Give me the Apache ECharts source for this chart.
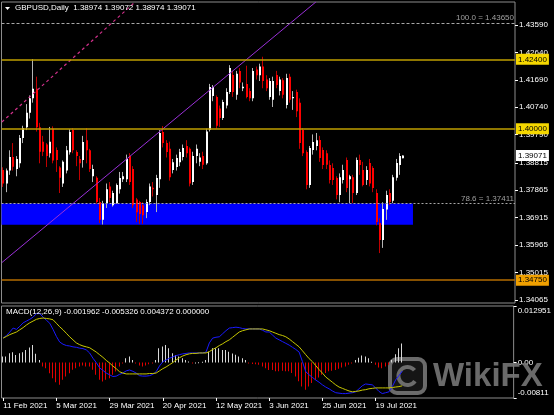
<!DOCTYPE html>
<html><head><meta charset="utf-8">
<script src="https://cdn.jsdelivr.net/npm/echarts@6/dist/echarts.min.js"></script>
<style>html,body{margin:0;padding:0;background:#000;}#c{width:554px;height:415px;}</style>
</head><body><div id="c"></div>
<script>
// ---------- data ----------
const symbolName = 'GBPUSD,Daily';
const firstDate = [2021, 1, 11];      // 11 Feb 2021
const totalSlots = 154;               // bars + empty shift area
const opens  = [1.3857,1.3810,1.3855,1.3902,1.3860,1.3880,1.3968,1.4005,1.4055,1.4105,1.4138,1.4005,1.3955,1.3945,1.3915,1.4000,1.3926,1.3865,1.3810,1.3855,1.3918,1.3995,1.3919,1.3895,1.3891,1.3960,1.3925,1.3835,1.3830,1.3746,1.3684,1.3742,1.3800,1.3735,1.3742,1.3790,1.3825,1.3825,1.3905,1.3860,1.3755,1.3746,1.3735,1.3711,1.3746,1.3795,1.3770,1.3825,1.3988,1.3950,1.3930,1.3857,1.3867,1.3884,1.3902,1.3940,1.3930,1.3815,1.3905,1.3885,1.3905,1.3880,1.3995,1.4113,1.4110,1.4070,1.4037,1.4080,1.4127,1.4186,1.4117,1.4200,1.4140,1.4155,1.4130,1.4105,1.4205,1.4185,1.4215,1.4170,1.4110,1.4100,1.4186,1.4130,1.4168,1.4082,1.4180,1.4105,1.4127,1.4090,1.3995,1.3919,1.3805,1.3926,1.3940,1.3961,1.3926,1.3915,1.3874,1.3864,1.3829,1.3770,1.3822,1.3891,1.3825,1.3832,1.3777,1.3891,1.3857,1.3822,1.3881,1.3864,1.3777,1.3673,1.3614,1.3720,1.3777,1.3750,1.3830,1.3874,1.38974];
const highs  = [1.3866,1.3862,1.3925,1.3950,1.3905,1.3978,1.4010,1.4085,1.4115,1.4241,1.4180,1.4020,1.3975,1.3950,1.4006,1.4008,1.3935,1.3870,1.3890,1.3940,1.3998,1.4002,1.3925,1.3905,1.3975,1.4002,1.3930,1.3875,1.3835,1.3760,1.3750,1.3810,1.3815,1.3785,1.3810,1.3850,1.3850,1.3910,1.3915,1.3870,1.3760,1.3750,1.3745,1.3755,1.3810,1.3815,1.3840,1.3995,1.4009,1.3960,1.3955,1.3895,1.3910,1.3930,1.3945,1.3960,1.3935,1.3920,1.3945,1.3915,1.3920,1.4000,1.4155,1.4151,1.4115,1.4080,1.4100,1.4140,1.4220,1.4200,1.4200,1.4210,1.4160,1.4218,1.4140,1.4210,1.4215,1.4225,1.4249,1.4185,1.4175,1.4180,1.4200,1.4180,1.4175,1.4190,1.4190,1.4130,1.4135,1.4105,1.4002,1.3925,1.3940,1.3980,1.3985,1.3975,1.3935,1.3925,1.3890,1.3880,1.3835,1.3845,1.3875,1.3900,1.3840,1.3840,1.3900,1.3910,1.3885,1.3870,1.3895,1.3870,1.3790,1.3690,1.3745,1.3785,1.3790,1.3840,1.3895,1.3915,1.39072];
const lows   = [1.3798,1.3780,1.3840,1.3855,1.3835,1.3865,1.3950,1.3995,1.4035,1.4090,1.3990,1.3880,1.3905,1.3867,1.3900,1.3880,1.3850,1.3777,1.3798,1.3845,1.3910,1.3915,1.3870,1.3822,1.3865,1.3880,1.3850,1.3815,1.3740,1.3673,1.3668,1.3725,1.3745,1.3730,1.3740,1.3775,1.3815,1.3815,1.3805,1.3725,1.3677,1.3670,1.3670,1.3690,1.3735,1.3765,1.3711,1.3795,1.3935,1.3900,1.3820,1.3845,1.3855,1.3870,1.3890,1.3900,1.3800,1.3805,1.3880,1.3870,1.3860,1.3875,1.3990,1.4095,1.4000,1.4006,1.4030,1.4070,1.4120,1.4110,1.4100,1.4140,1.4130,1.4105,1.4095,1.4095,1.4170,1.4165,1.4140,1.4130,1.4100,1.4075,1.4140,1.4115,1.4105,1.4070,1.4090,1.4065,1.4040,1.3930,1.3905,1.3790,1.3795,1.3910,1.3925,1.3885,1.3860,1.3860,1.3810,1.3805,1.3755,1.3745,1.3810,1.3780,1.3742,1.3742,1.3770,1.3840,1.3800,1.3805,1.3800,1.3780,1.3665,1.3569,1.3587,1.3684,1.3735,1.3742,1.3820,1.3840,1.38974];
const closes = [1.3810,1.3855,1.3902,1.3868,1.3895,1.3968,1.4002,1.4055,1.4105,1.4138,1.4005,1.3920,1.3920,1.3905,1.3955,1.3890,1.3891,1.3830,1.3885,1.3925,1.3988,1.3925,1.3905,1.3880,1.3954,1.3925,1.3860,1.3860,1.3746,1.3684,1.3742,1.3790,1.3760,1.3777,1.3805,1.3829,1.3835,1.3895,1.3815,1.3735,1.3710,1.3704,1.3700,1.3746,1.3800,1.3790,1.3829,1.3985,1.3950,1.3919,1.3832,1.3884,1.3898,1.3919,1.3933,1.3915,1.3810,1.3905,1.3930,1.3900,1.3875,1.3990,1.4144,1.4144,1.4010,1.4037,1.4092,1.4127,1.4210,1.4127,1.4190,1.4160,1.4145,1.4110,1.4105,1.4200,1.4185,1.4215,1.4165,1.4140,1.4165,1.4165,1.4151,1.4170,1.4117,1.4175,1.4100,1.4110,1.4060,1.3950,1.3915,1.3805,1.3933,1.3954,1.3960,1.3898,1.3874,1.3875,1.3822,1.3822,1.3770,1.3832,1.3857,1.3794,1.3835,1.3777,1.3891,1.3874,1.3805,1.3857,1.3810,1.3794,1.3677,1.3614,1.3722,1.3770,1.3746,1.3832,1.3881,1.3905,1.39071];

const macdHist = [0.00137,0.00137,0.00213,0.00236,0.00175,0.00213,0.00236,0.00290,0.00343,0.00404,0.0020,0.0006,
 -0.00091,-0.00129,-0.00243,-0.00357,-0.00449,-0.0051,-0.00395,-0.00319,-0.00243,-0.00167,-0.00129,-0.00091,-0.00068,-0.00091,-0.00091,-0.00167,-0.00281,-0.00395,-0.00433,-0.00395,-0.00357,-0.00281,-0.00205,-0.00091,-0.00015,
 0.0010,0.00137,0.00061,-0.00015,-0.00068,-0.00091,-0.00068,-0.00038,-0.00015,0.00061,0.00328,0.00366,0.00404,0.00328,0.00213,0.00175,0.00137,0.0010,0.00061,0.00023,-0.0001,0.00002,0.0001,0.0002,0.0006,0.0025,0.0033,0.0033,0.0033,0.0029,0.0029,0.0025,0.0021,0.0018,0.0014,0.0010,0.0006,-0.0001,-0.0003,-0.0004,-0.0005,-0.0009,-0.0013,
 -0.0017,-0.0017,-0.0020,-0.0020,-0.0019,-0.0020,-0.0020,-0.0024,-0.0032,-0.0043,-0.0055,-0.0062,-0.0055,-0.0047,-0.0040,-0.0034,-0.0028,-0.0024,-0.0020,-0.0019,-0.0017,-0.0014,-0.0011,-0.0009,-0.0005,-0.0001,
 0.0006,0.0011,0.0016,0.0014,0.0010,0.0002,-0.0005,-0.0011,-0.0013,-0.0009,-0.0005,0.0006,0.0019,0.0033,0.004372];
const macdMain = [0.0056,0.0062,0.0070,0.0079,0.0076,0.0083,0.0091,0.0095,0.0099,0.0104,0.0112,0.0112,0.0104,0.0097,0.0090,0.0076,0.0060,0.0047,0.0042,0.0039,0.0038,0.0036,0.0035,0.0033,0.0032,0.0029,0.0022,0.0010,0.0000,-0.0012,-0.0018,-0.0024,-0.0028,-0.0032,-0.0031,-0.0027,-0.0024,-0.0019,-0.0017,-0.0020,-0.0024,-0.0030,-0.0031,-0.0031,-0.0030,-0.0027,-0.0021,-0.0008,0.0002,0.0006,0.0010,0.0013,0.0016,0.0018,0.0020,0.0021,0.0022,0.0022,0.0022,0.0022,0.0022,0.0024,0.0045,0.0056,0.0058,0.0059,0.0066,0.0073,0.0079,0.0080,0.0081,0.0080,0.0078,0.0077,0.0077,0.0077,0.0077,0.0077,0.0074,0.0070,0.0070,0.0063,0.0056,0.0052,0.0048,0.0044,0.0040,0.0035,0.0030,0.0024,0.0002,-0.0021,-0.0028,-0.0034,-0.0040,-0.0045,-0.0051,-0.0056,-0.0060,-0.0065,-0.0069,-0.0070,-0.0071,-0.0071,-0.0070,-0.0069,-0.0067,-0.0060,-0.0053,-0.0049,-0.0050,-0.0051,-0.0058,-0.0066,-0.0071,-0.0069,-0.0067,-0.0055,-0.0040,-0.0030,-0.001962];
const macdSignal = [0.0056,0.0060,0.0064,0.0067,0.0070,0.0075,0.0080,0.0086,0.0091,0.0095,0.0099,0.0101,0.0102,0.0101,0.0100,0.0098,0.0090,0.0082,0.0075,0.0067,0.0059,0.0052,0.0045,0.0041,0.0038,0.0036,0.0034,0.0029,0.0024,0.0018,0.0012,0.0005,-0.0001,-0.0008,-0.0014,-0.0021,-0.0024,-0.0026,-0.0026,-0.0026,-0.0026,-0.0026,-0.0026,-0.0026,-0.0025,-0.0025,-0.0024,-0.0019,-0.0014,-0.0010,-0.0005,0.0000,0.0006,0.0011,0.0015,0.0018,0.0020,0.0021,0.0021,0.0022,0.0022,0.0022,0.0025,0.0030,0.0034,0.0039,0.0043,0.0048,0.0052,0.0058,0.0064,0.0070,0.0073,0.0075,0.0077,0.0077,0.0077,0.0077,0.0077,0.0075,0.0073,0.0070,0.0067,0.0064,0.0062,0.0059,0.0054,0.0048,0.0042,0.0036,0.0027,0.0018,0.0009,0.0002,-0.0007,-0.0016,-0.0024,-0.0033,-0.0039,-0.0045,-0.0051,-0.0056,-0.0059,-0.0062,-0.0065,-0.0067,-0.0066,-0.0065,-0.0063,-0.0062,-0.0060,-0.0059,-0.0058,-0.0058,-0.0058,-0.0058,-0.0058,-0.0057,-0.0056,-0.0055,-0.005326];
const macdEmpty = 0.000000;

const priceMin = 1.339607, priceMax = 1.443867;
const priceTicks = [1.43590,1.42640,1.41690,1.40740,1.39790,1.38815,1.37865,1.36915,1.35965,1.35015,1.34065];
const macdMin = -0.00811, macdMax = 0.012951;
const macdTickValues = [0.012951, 0, -0.00811];
const macdTickLabels = ['0.012951', '0.00', '-0.00811'];
const dateTicks = ['11 Feb 2021','5 Mar 2021','29 Mar 2021','20 Apr 2021','12 May 2021','3 Jun 2021','25 Jun 2021','19 Jul 2021'];

const levelValues = [1.42400, 1.40000, 1.34750];
const fibValues = [1.43650, 1.37411];
const fibNames = ['100.0', '78.6'];
const zoneTop = 1.37411, zoneBottom = 1.36673, zoneStartIdx = -0.5, zoneEndIdx = 122.9;
const trendPurple = [[-0.4, 1.3536], [93.8, 1.4439]];
const trendPink = [[-0.4, 1.4023], [39.6, 1.4439]];

// ---------- styles ----------
const FONT = '"Liberation Sans", Arial, sans-serif';
const levelLineColors = ['#bf9f00', '#bf9f00', '#b56d00'];
const levelBoxColors = ['#f5d700', '#f5d700', '#f0a000'];

// ---------- build ----------
const MON = ['Jan','Feb','Mar','Apr','May','Jun','Jul','Aug','Sep','Oct','Nov','Dec'];
const cats = [];
{
  const d = new Date(Date.UTC(firstDate[0], firstDate[1], firstDate[2]));
  while (cats.length < totalSlots) {
    const wd = d.getUTCDay();
    if (wd !== 0 && wd !== 6) cats.push(d.getUTCDate() + ' ' + MON[d.getUTCMonth()] + ' ' + d.getUTCFullYear());
    d.setUTCDate(d.getUTCDate() + 1);
  }
}
const candleData = opens.map((o, i) => [i, o, closes[i], lows[i], highs[i]]);
const histData = macdHist.map((v, i) => [i, v]);
const last = opens.length - 1;
const f5 = v => v.toFixed(5);
const titleText = symbolName + '  ' + f5(opens[last]) + ' ' + f5(highs[last]) + ' ' + f5(lows[last]) + ' ' + f5(closes[last]);
const macdTitle = 'MACD(12,26,9) ' + macdMain[last].toFixed(6) + ' ' + macdSignal[last].toFixed(6) + ' ' + macdHist[last].toFixed(6) + ' ' + macdEmpty.toFixed(6);
const isDateTick = (idx, val) => dateTicks.indexOf(val) >= 0;

const chart = echarts.init(document.getElementById('c'), null, {renderer: 'canvas'});
chart.setOption({
  backgroundColor: '#000000',
  animation: false,
  grid: [
    {left: 1.5, right: 39, top: 2, height: 301, show: true, borderColor: '#8c8c8c', borderWidth: 1, backgroundColor: 'transparent'},
    {left: 1.5, right: 39, top: 306, height: 92, show: true, borderColor: '#8c8c8c', borderWidth: 1, backgroundColor: 'transparent'}
  ],
  xAxis: [
    {gridIndex: 0, type: 'category', data: cats, boundaryGap: true, show: false},
    {gridIndex: 0, type: 'value', min: -0.5, max: totalSlots - 0.5, show: false, axisLine: {onZero: false}},
    {gridIndex: 1, type: 'category', data: cats, boundaryGap: true,
     axisLine: {show: false, onZero: false},
     axisTick: {show: true, length: 3, alignWithLabel: true, interval: isDateTick, lineStyle: {color: '#ffffff'}},
     axisLabel: {interval: isDateTick, align: 'left', color: '#ffffff', fontSize: 8, fontFamily: FONT, margin: 4},
     splitLine: {show: false}}
  ],
  yAxis: [
    {gridIndex: 0, type: 'value', position: 'right', min: priceMin, max: priceMax, scale: true,
     splitLine: {show: false}, axisLine: {show: false, onZero: false},
     axisTick: {show: true, length: 3, customValues: priceTicks, lineStyle: {color: '#ffffff'}},
     axisLabel: {customValues: priceTicks, showMinLabel: true, showMaxLabel: true, formatter: v => v.toFixed(5), color: '#ffffff', fontSize: 8, fontFamily: FONT, margin: 4}},
    {gridIndex: 1, type: 'value', position: 'right', min: macdMin, max: macdMax,
     splitLine: {show: false}, axisLine: {show: false, onZero: false},
     axisTick: {show: true, length: 3, customValues: macdTickValues, lineStyle: {color: '#ffffff'}},
     axisLabel: {customValues: macdTickValues, showMinLabel: true, showMaxLabel: true, margin: 4,
       formatter: v => {
         let k = 0, best = Infinity;
         macdTickValues.forEach((t, j) => { const dd = Math.abs(t - v); if (dd < best) { best = dd; k = j; } });
         const tag = k === 0 ? 't' : (k === macdTickValues.length - 1 ? 'b' : 'm');
         return '{' + tag + '|' + macdTickLabels[k] + '}';
       },
       rich: {
         t: {padding: [10, 0, 0, 0], color: '#ffffff', fontSize: 8, fontFamily: FONT},
         m: {color: '#ffffff', fontSize: 8, fontFamily: FONT},
         b: {padding: [0, 0, 10, 0], color: '#ffffff', fontSize: 8, fontFamily: FONT}
       }}}
  ],
  series: [
    { // fibo zone + fibo lines
      type: 'line', xAxisIndex: 1, yAxisIndex: 0, data: [], z: 1, silent: true,
      markArea: {silent: true, itemStyle: {color: '#0000ff', opacity: 1},
        data: [[{coord: [zoneStartIdx, zoneTop]}, {coord: [zoneEndIdx, zoneBottom]}]]},
      markLine: {silent: true, symbol: ['none', 'none'], precision: 6,
        data: fibValues.map((v, k) => ({
          yAxis: v,
          lineStyle: {color: '#a8a8a8', width: 1, type: k === 0 ? [3, 2] : [2, 2]},
          label: {show: true, position: 'insideEndTop', distance: 1, formatter: fibNames[k] + ' = ' + f5(v),
                  color: '#a0a0a0', fontSize: 8, fontFamily: FONT}
        }))}
    },
    { // horizontal levels and price boxes
      type: 'line', xAxisIndex: 1, yAxisIndex: 0, data: [], z: 6, silent: true,
      markLine: {silent: true, symbol: ['none', 'none'], precision: 6,
        data: levelValues.map((v, k) => ({
          yAxis: v,
          lineStyle: {color: levelLineColors[k], width: 1.5, type: 'solid'},
          label: {show: true, position: 'end', distance: 1, formatter: f5(v), color: '#000000',
                  backgroundColor: levelBoxColors[k], padding: [2, 2, 1, 2], fontSize: 8, fontFamily: FONT}
        })).concat([{
          yAxis: closes[last],
          lineStyle: {color: 'rgba(0,0,0,0)', width: 0},
          label: {show: true, position: 'end', distance: 1, formatter: f5(closes[last]), color: '#000000',
                  backgroundColor: '#ffffff', padding: [2, 2, 1, 2], fontSize: 8, fontFamily: FONT}
        }])}
    },
    { // candles
      type: 'custom', xAxisIndex: 0, yAxisIndex: 0, z: 3, data: candleData,
      encode: {x: 0, y: [1, 2, 3, 4]},
      renderItem: function (params, api) {
        const i = api.value(0), o = api.value(1), c = api.value(2), l = api.value(3), h = api.value(4);
        const po = api.coord([i, o]), pc = api.coord([i, c]), pl = api.coord([i, l]), ph = api.coord([i, h]);
        const x = Math.round(po[0]);
        const up = c >= o;
        const top = Math.min(po[1], pc[1]), bot = Math.max(po[1], pc[1]);
        return {type: 'group', children: [
          {type: 'line', shape: {x1: x - 0.5, y1: ph[1], x2: x - 0.5, y2: pl[1]},
           style: {stroke: up ? '#b4b4b4' : '#c00000', lineWidth: 1}},
          {type: 'rect', shape: {x: x - 1, y: top, width: 2, height: Math.max(1, bot - top)},
           style: {fill: up ? '#ffffff' : '#ff0000'}}
        ]};
      }
    },
    { // purple trendline
      type: 'line', xAxisIndex: 1, yAxisIndex: 0, data: trendPurple, z: 4, clip: true,
      showSymbol: false, symbol: 'none', silent: true,
      lineStyle: {color: '#9a30d8', width: 1}
    },
    { // pink dashed trendline
      type: 'line', xAxisIndex: 1, yAxisIndex: 0, data: trendPink, z: 4, clip: true,
      showSymbol: false, symbol: 'none', silent: true,
      lineStyle: {color: '#d0308a', width: 1.2, type: [3, 3]}
    },
    { // MACD histogram
      type: 'custom', xAxisIndex: 2, yAxisIndex: 1, z: 3, data: histData,
      encode: {x: 0, y: 1},
      renderItem: function (params, api) {
        const i = api.value(0), v = api.value(1);
        const p = api.coord([i, v]), p0 = api.coord([i, 0]);
        const x = Math.round(p[0]) - 1;
        return {type: 'rect', shape: {x: x, y: Math.min(p[1], p0[1]), width: 1, height: Math.max(1, Math.abs(p[1] - p0[1]))},
                style: {fill: v >= 0 ? '#d8d8d8' : '#e00000'}};
      }
    },
    {type: 'line', xAxisIndex: 2, yAxisIndex: 1, data: macdMain, z: 4, showSymbol: false, symbol: 'none',
     lineStyle: {color: '#1a1aff', width: 1}, silent: true},
    {type: 'line', xAxisIndex: 2, yAxisIndex: 1, data: macdSignal, z: 4, showSymbol: false, symbol: 'none',
     lineStyle: {color: '#c8c800', width: 1}, silent: true}
  ],
  graphic: [
    {type: 'polygon', shape: {points: [[5, 7], [10, 7], [7.5, 10]]}, style: {fill: '#ffffff'}, z: 10},
    {type: 'text', left: 15, top: 4, z: 10, style: {text: titleText, fill: '#ffffff', fontSize: 8, fontFamily: FONT}},
    {type: 'text', left: 6, top: 308, z: 10, style: {text: macdTitle, fill: '#ffffff', fontSize: 8, fontFamily: FONT}},
    {type: 'group', left: 388, top: 357, z: 20, children: [
      {type: 'rect', shape: {x: 2, y: 2, width: 35, height: 34, r: 7}, style: {fill: 'rgba(60,60,60,0.35)', stroke: 'rgba(118,118,118,0.9)', lineWidth: 4}},
      {type: 'arc', shape: {cx: 19.5, cy: 19, r: 9, startAngle: 0.6, endAngle: 5.6}, style: {stroke: 'rgba(118,118,118,0.9)', lineWidth: 4, fill: 'none'}}
    ]},
    {type: 'text', left: 433, top: 360, z: 20, style: {text: 'WikiFX', fill: 'rgba(118,118,118,0.9)', fontSize: 33, fontWeight: 'bold', fontFamily: FONT}}
  ]
});
</script>
</body></html>
